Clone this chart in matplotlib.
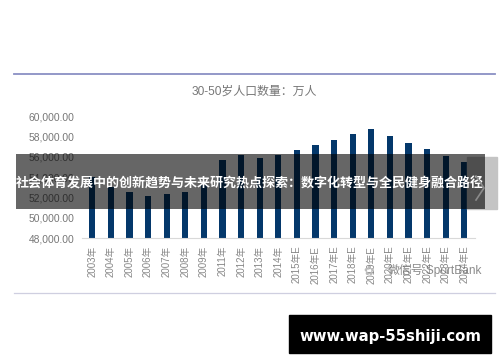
import matplotlib
matplotlib.use("Agg")
import matplotlib.pyplot as plt
from matplotlib.patches import Rectangle

plt.rcParams['font.family'] = ['Liberation Sans', 'Noto Sans CJK SC', 'DejaVu Sans']

# chart data
years = ["2003年", "2004年", "2005年", "2006年", "2007年", "2008年", "2009年", "2011年",
         "2012年", "2013年", "2014年", "2015年E", "2016年E", "2017年E", "2018年E", "2019年E",
         "2020年E", "2021年E", "2022年E", "2023年E", "2024年E"]
people = [54040, 53000, 52560, 52170, 52300, 52530, 53200, 55750, 56180, 55900, 56180,
          56670, 57200, 57720, 58250, 58770, 58080, 57430, 56770, 56080, 55460]
yticks = [48000, 50000, 52000, 54000, 56000, 58000, 60000]

W, H = 500, 362
fig = plt.figure(figsize=(W / 100, H / 100), dpi=100, facecolor="white")

# main axes, placed in pixels
ax = fig.add_axes([82 / W, (H - 238) / H, 393 / W, 121.5 / H])
ax.bar(range(len(years)), people, width=0.33, color="#04386b")
ax.set_xlim(-0.55, 20.57)
ax.set_ylim(48000, 60000)
ax.set_yticks(yticks)
ax.set_yticklabels([f"{v:,.2f}" for v in yticks], fontsize=7.4, color="#777777")
ax.set_xticks(range(len(years)))
ax.set_xticklabels(years, rotation=90, fontsize=7, color="#888888")
ax.tick_params(length=0, pad=5.5, axis="y")
ax.tick_params(length=0, pad=5.5, axis="x")
for side in ["top", "right", "left"]:
    ax.spines[side].set_visible(False)
ax.spines["bottom"].set_color("#d9d9d9")
ax.spines["bottom"].set_linewidth(0.8)

# overlay in picture pixels: rules, banner, watermark
over = fig.add_axes([0, 0, 1, 1], facecolor="none")
over.set_xlim(0, W)
over.set_ylim(H, 0)
over.axis("off")

over.plot([14, 495], [74, 74], color="#8a90c4", lw=1.3)
over.plot([14, 495], [292.5, 292.5], color="#cfcfe0", lw=0.9)
over.text(254, 92, "30-50岁人口数量：万人", fontsize=8.6, color="#777777", ha="center", va="center")

over.add_patch(Rectangle((467, 157), 30, 51.5, color="#c4c4c4", zorder=3))
over.add_patch(Rectangle((16, 154), 469, 54.5, color="black", alpha=0.6, lw=0, zorder=4))
over.text(250, 184, "社会体育发展中的创新趋势与未来研究热点探索：数字化转型与全民健身融合路径",
          fontsize=9.4, color="white", weight="bold", ha="center", va="center", zorder=5)
over.plot([476, 484, 476], [176, 188, 200], color="#8a8a8a", lw=1.2, zorder=5)

over.text(435, 270, "微信号:SportBank", fontsize=8.6, color="#666666", alpha=0.75,
          ha="center", va="center", zorder=5)
over.text(369, 271, "✿", fontsize=9, color="#bbbbbb", family="DejaVu Sans",
          ha="center", va="center", zorder=5)

over.add_patch(Rectangle((289, 315), 202, 38, color="black", zorder=6))
over.text(390, 336, "www.wap-55shiji.com", fontsize=10.7, color="white", weight="bold",
          family="DejaVu Sans", ha="center", va="center", zorder=7)

fig.savefig("out.png", dpi=100)
